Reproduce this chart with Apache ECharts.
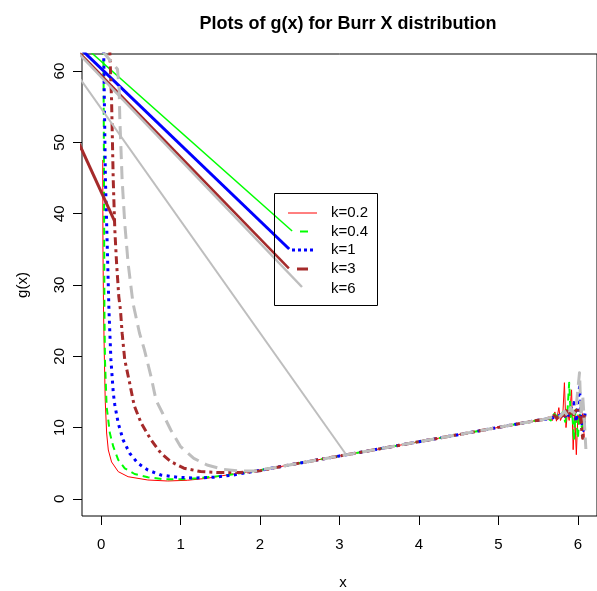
<!DOCTYPE html>
<html>
<head>
<meta charset="utf-8">
<script src="https://cdn.jsdelivr.net/npm/echarts@6/dist/echarts.min.js"></script>
<style>
html, body { margin: 0; padding: 0; background: #ffffff; }
#chart { width: 597px; height: 591px; }
</style>
</head>
<body>
<div id="chart"></div>
<script>
// g(x) for the Burr X distribution, one curve per shape parameter k.
// Steep start near x = 0 and the dip towards the minimum:
const xK02 = [0.021, 0.024, 0.031, 0.042, 0.052, 0.070, 0.091, 0.132, 0.216, 0.340, 0.588, 0.836, 1.085, 1.333, 1.581, 1.829, 2.007];
const gK02 = [47.54, 34.92, 26.50, 19.49, 13.87, 9.24, 6.86, 5.18, 3.82, 3.11, 2.65, 2.51, 2.61, 2.89, 3.35, 3.73, 4.05];

const xK04 = [0.027, 0.037, 0.042, 0.049, 0.070, 0.111, 0.154, 0.216, 0.298, 0.422, 0.588, 0.794, 1.001, 1.209, 1.415, 1.622, 1.829];
const gK04 = [70.0, 44.74, 26.51, 19.48, 12.93, 9.20, 7.32, 5.46, 4.29, 3.49, 3.03, 2.75, 2.75, 2.89, 3.11, 3.39, 3.73];

const xK1 = [0.029, 0.055, 0.070, 0.099, 0.124, 0.154, 0.173, 0.216, 0.278, 0.360, 0.464, 0.588, 0.753, 0.960, 1.167, 1.415, 1.663, 1.911];
const gK1 = [66.0, 44.74, 38.66, 26.50, 19.49, 14.81, 13.17, 10.60, 8.26, 6.40, 4.99, 4.05, 3.35, 3.03, 2.93, 3.03, 3.35, 3.82];

const xK3 = [0.108, 0.111, 0.132, 0.153, 0.173, 0.195, 0.223, 0.244, 0.265, 0.298, 0.360, 0.402, 0.422, 0.505, 0.629, 0.753, 0.877, 1.042, 1.251, 1.500, 1.748, 1.997];
const gK3 = [66.0, 62.27, 55.96, 44.74, 37.73, 33.06, 28.37, 26.50, 23.24, 19.50, 16.23, 13.88, 12.94, 10.62, 8.27, 6.41, 5.23, 4.31, 3.83, 3.69, 3.69, 3.93];

const xK6 = [0.021, 0.207, 0.228, 0.235, 0.265, 0.298, 0.340, 0.402, 0.484, 0.546, 0.629, 0.691, 0.774, 0.877, 1.001, 1.167, 1.333, 1.539, 1.746, 1.954];
const gK6 = [62.74, 60.26, 57.35, 53.61, 44.74, 38.66, 33.05, 27.43, 23.23, 20.88, 17.14, 13.87, 12.01, 9.66, 7.32, 5.69, 4.75, 4.15, 3.91, 3.96];

// Stretch where all five curves coincide
const sharedX = [2.25, 2.5, 3.0, 3.5, 4.0, 4.5, 5.0, 5.5];
const sharedY = [4.52, 5.02, 6.02, 7.01, 8.02, 9.02, 10.03, 11.04];

// Round-off noise near the right end of the range
const noiseXK02 = [5.55, 5.60, 5.65, 5.68, 5.71, 5.73, 5.76, 5.78, 5.81, 5.83, 5.85, 5.87, 5.89, 5.92, 5.94, 5.96, 5.98, 6.00, 6.03, 6.06, 6.08];
const noiseYK02 = [11.1, 11.2, 11.5, 11.0, 12.2, 10.9, 12.8, 11.0, 11.8, 16.3, 10.0, 12.3, 11.0, 15.3, 6.9, 12.0, 6.2, 11.8, 10.5, 12.0, 8.5];
const noiseXK04 = [5.55, 5.62, 5.66, 5.70, 5.75, 5.78, 5.81, 5.84, 5.87, 5.89, 5.91, 5.93, 5.95, 5.97, 6.00, 6.02, 6.05, 6.08];
const noiseYK04 = [11.1, 11.3, 11.0, 11.9, 11.5, 11.3, 12.2, 10.8, 12.5, 16.3, 11.5, 12.0, 8.2, 12.5, 8.5, 12.0, 10.0, 11.5];
const noiseXK1 = [5.55, 5.65, 5.75, 5.82, 5.86, 5.90, 5.95, 5.98, 6.02, 6.04, 6.07, 6.09];
const noiseYK1 = [11.1, 11.3, 11.6, 12.0, 11.2, 12.4, 13.5, 10.8, 15.7, 11.0, 9.6, 12.0];
const noiseXK3 = [5.55, 5.66, 5.70, 5.74, 5.78, 5.82, 5.87, 5.92, 5.97, 6.02, 6.04, 6.06, 6.08];
const noiseYK3 = [11.1, 11.4, 11.7, 11.3, 11.9, 11.2, 12.6, 11.5, 12.3, 12.8, 10.5, 8.5, 11.8];
const noiseXK6 = [5.55, 5.65, 5.72, 5.78, 5.83, 5.88, 5.91, 5.95, 5.98, 6.02, 6.04, 6.06, 6.08, 6.10];
const noiseYK6 = [11.1, 11.4, 11.7, 11.6, 12.3, 11.5, 12.8, 12.0, 13.2, 17.7, 11.5, 14.5, 11.0, 7.0];

// Straight connector strokes drawn solid in the curve colours
const linkXK04 = [-0.30, 2.404];  const linkYK04 = [64.35, 37.58];
const linkXK1 = [-0.30, 2.367];   const linkYK1 = [63.58, 35.05];
const linkXK3a = [-0.30, 2.363];  const linkYK3a = [62.89, 32.34];
const linkXK3b = [-0.30, 0.173];  const linkYK3b = [50.40, 38.88];
const linkXK6a = [-0.30, 2.528];  const linkYK6a = [62.69, 29.72];
const linkXK6b = [-0.30, 3.087];  const linkYK6b = [59.49, 6.16];

const xTicks = [0, 1, 2, 3, 4, 5, 6];
const yTicks = [0, 10, 20, 30, 40, 50, 60];
const legendLabels = ['k=0.2', 'k=0.4', 'k=1', 'k=3', 'k=6'];

const FONT = '"Liberation Sans", Arial, Helvetica, sans-serif';

function pairs(xs, ys) { return xs.map((x, i) => [x, ys[i]]); }
function curve(xs, ys, nx, ny) {
  return pairs(xs, ys).concat(pairs(sharedX, sharedY), pairs(nx, ny));
}

function lineSeries(name, data, color, width, dash) {
  return {
    name: name,
    type: 'line',
    data: data,
    showSymbol: false,
    symbol: 'none',
    clip: true,
    silent: true,
    animation: false,
    lineStyle: { color: color, width: width, type: dash || 'solid', cap: 'butt', join: 'round' },
    emphasis: { disabled: true },
    z: 2
  };
}

const RED = '#ff0000', GREEN = '#00ff00', BLUE = '#0000ff', BROWN = '#a52a2a', GRAY = '#bebebe';

const series = [
  lineSeries('k=0.2', curve(xK02, gK02, noiseXK02, noiseYK02), RED, 1),
  lineSeries('k=0.4', curve(xK04, gK04, noiseXK04, noiseYK04), GREEN, 2, [7, 5]),
  lineSeries('k=0.4 link', pairs(linkXK04, linkYK04), GREEN, 1.5),
  lineSeries('k=1', curve(xK1, gK1, noiseXK1, noiseYK1), BLUE, 3, [3, 4.5]),
  lineSeries('k=1 link', pairs(linkXK1, linkYK1), BLUE, 3),
  lineSeries('k=3', curve(xK3, gK3, noiseXK3, noiseYK3), BROWN, 3, [8, 4, 3, 4]),
  lineSeries('k=3 link a', pairs(linkXK3a, linkYK3a), BROWN, 2.5),
  lineSeries('k=3 link b', pairs(linkXK3b, linkYK3b), BROWN, 3),
  lineSeries('k=6', curve(xK6, gK6, noiseXK6, noiseYK6), GRAY, 3, [13, 7]),
  lineSeries('k=6 link a', pairs(linkXK6a, linkYK6a), GRAY, 2.5),
  lineSeries('k=6 link b', pairs(linkXK6b, linkYK6b), GRAY, 2)
];

// Legend panel
const legendRows = [213, 231.5, 250, 269, 288.5];
const legendGraphics = [
  { type: 'rect', shape: { x: 274.5, y: 193.5, width: 103, height: 112 },
    style: { fill: 'none', stroke: '#000', lineWidth: 1 }, z: 10 },
  { type: 'line', shape: { x1: 288, y1: legendRows[0], x2: 317, y2: legendRows[0] },
    style: { stroke: RED, lineWidth: 1 }, z: 10 },
  { type: 'line', shape: { x1: 300, y1: legendRows[1], x2: 308, y2: legendRows[1] },
    style: { stroke: GREEN, lineWidth: 2 }, z: 10 },
  { type: 'line', shape: { x1: 292, y1: legendRows[2], x2: 313, y2: legendRows[2] },
    style: { stroke: BLUE, lineWidth: 3, lineDash: [3, 3] }, z: 10 },
  { type: 'line', shape: { x1: 297, y1: legendRows[3], x2: 308, y2: legendRows[3] },
    style: { stroke: BROWN, lineWidth: 3 }, z: 10 }
];
legendLabels.forEach((t, i) => {
  legendGraphics.push({
    type: 'text', x: 331, y: legendRows[i], z: 10,
    style: { text: t, font: '15px ' + FONT, fill: '#000',
             textAlign: 'left', textVerticalAlign: 'middle', verticalAlign: 'middle' }
  });
});

// Axis titles
legendGraphics.push({
  type: 'text', x: 343, y: 583, z: 10,
  style: { text: 'x', font: '15px ' + FONT, fill: '#000',
           textAlign: 'center', textVerticalAlign: 'middle', verticalAlign: 'middle' }
});
legendGraphics.push({
  type: 'text', x: 23, y: 285, rotation: Math.PI / 2, z: 10,
  style: { text: 'g(x)', font: '15px ' + FONT, fill: '#000',
           textAlign: 'center', textVerticalAlign: 'middle', verticalAlign: 'middle' }
});

const chart = echarts.init(document.getElementById('chart'), null, { renderer: 'canvas' });
chart.setOption({
  animation: false,
  backgroundColor: '#ffffff',
  title: {
    text: 'Plots of g(x) for Burr X distribution',
    left: 343,
    top: 10,
    textAlign: 'center',
    textStyle: { fontFamily: FONT, fontSize: 18, fontWeight: 'bold', color: '#000' }
  },
  grid: {
    left: 82, top: 54, width: 522, height: 462,
    show: true, borderColor: '#000', borderWidth: 1, backgroundColor: 'transparent',
    containLabel: false
  },
  xAxis: {
    type: 'value', min: -0.24, max: 6.24,
    axisLine: { show: false, onZero: false },
    splitLine: { show: false },
    axisTick: { show: true, length: 9, customValues: xTicks, lineStyle: { color: '#000', width: 1 } },
    axisLabel: { customValues: xTicks, margin: 21, fontSize: 15, fontFamily: FONT, color: '#000' }
  },
  yAxis: {
    type: 'value', min: -2.4, max: 62.4,
    axisLine: { show: false, onZero: false },
    splitLine: { show: false },
    axisTick: { show: true, length: 9, customValues: yTicks, lineStyle: { color: '#000', width: 1 } },
    axisLabel: { customValues: yTicks, margin: 15, rotate: 90, fontSize: 15, fontFamily: FONT, color: '#000' }
  },
  series: series,
  graphic: legendGraphics
});
</script>
</body>
</html>
